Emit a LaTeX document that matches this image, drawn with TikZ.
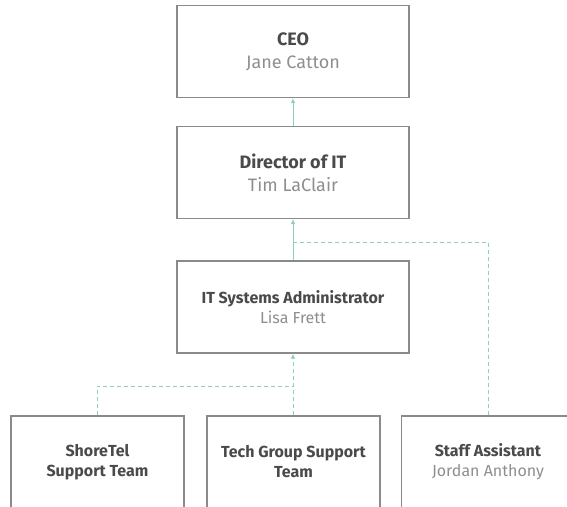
\documentclass[tikz,border=0pt]{standalone}
\usepackage{fontspec}
\setmainfont{Fira Sans}
\usepackage{xcolor}
\usetikzlibrary{arrows.meta}
\definecolor{linkteal}{HTML}{8ECFC3}
\definecolor{boxgray}{HTML}{8A8A8A}
\definecolor{titlegray}{HTML}{4A4A4A}
\definecolor{namegray}{HTML}{8E8E8E}
\newcommand{\person}[2]{\textbf{#1}\\{\color{namegray}#2}}
\begin{document}
\begin{tikzpicture}[x=1pt,y=-1pt,
    box/.style={draw=boxgray,line width=1.4pt,minimum width=232pt,minimum height=92pt,align=center,text=titlegray,font=\fontsize{18}{23}\selectfont},
    teambox/.style={box,minimum width=173pt,font=\fontsize{16}{20}\selectfont},
    link/.style={draw=linkteal,line width=1pt},
    dashlink/.style={link,dash pattern=on 4pt off 3pt}]
    \useasboundingbox (0,0) rectangle (567,506);
    % upper boxes
    \node[box] (ceo) at (293,51.5) {\person{CEO}{Jane Catton}};
    \node[box] (director) at (293,172.5) {\person{Director of IT}{Tim LaClair}};
    \node[box,font=\fontsize{16}{20}\selectfont] (admin) at (293,307) {\person{IT Systems Administrator}{Lisa Frett}};
    % bottom row
    \node[teambox] (shoretel) at (97.5,462) {\textbf{ShoreTel}\\\textbf{Support Team}};
    \node[teambox] (techgroup) at (293.5,462) {\textbf{Tech Group Support}\\\textbf{Team}};
    \node[teambox] (staff) at (488,462) {\person{Staff Assistant}{Jordan Anthony}};
    % joints
    \coordinate (staffjoin) at (293,242);
    \coordinate (teamjoin) at (293,386);
    % connectors
    \draw[link,-{Latex[length=5pt,width=5pt]}] (director) -- (ceo);
    \draw[link,-{Latex[length=5pt,width=5pt]}] (admin) -- (director);
    \draw[dashlink] (staff.north) |- (staffjoin);
    \draw[dashlink] (shoretel.north) |- (teamjoin);
    \draw[dashlink,-{Latex[length=5pt,width=5pt]}] (techgroup.north -| admin) -- (admin.south);
\end{tikzpicture}
\end{document}
